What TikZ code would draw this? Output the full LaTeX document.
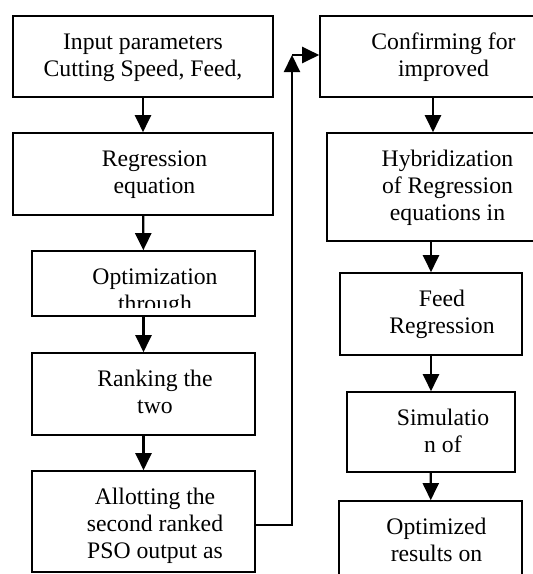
\documentclass[tikz,border=0pt]{standalone}
\usepackage{fontspec}
\setmainfont{Liberation Serif}
\usetikzlibrary{arrows.meta, positioning, calc}

\begin{document}
\begin{tikzpicture}[x=1pt, y=-1pt, align=center,
    box/.style={draw, line width=1.6pt, inner sep=0pt},
    txt/.style 2 args={path picture={
        \clip ([yshift=9pt]path picture bounding box.south west) rectangle (path picture bounding box.north east);
        \node[font=\fontsize{23.7}{27}\selectfont, align=center, inner sep=0pt, minimum width=0pt, minimum height=0pt, anchor=north] at ([xshift=#1pt, yshift=-14.1pt]path picture bounding box.north) {\strut #2};}},
    arrow/.style={-{Triangle[length=17pt, width=16pt]}, line width=2.2pt}
]
    \useasboundingbox (0,0) rectangle (533,574);
    \node[box, minimum width=260pt, minimum height=81pt, txt={0}{Input parameters\\Cutting Speed, Feed,}] (l1) at (143,56.5) {};
    \node[box, minimum width=260pt, minimum height=82pt, txt={11.5}{Regression\\equation}] (l2) at (143,174) {};
    \node[box, minimum width=223pt, minimum height=65pt, txt={11.5}{Optimization\\through}] (l3) at (143.5,283.5) {};
    \node[box, minimum width=223pt, minimum height=82pt, txt={11.5}{Ranking the\\two}] (l4) at (143.5,394) {};
    \node[box, minimum width=223pt, minimum height=101pt, txt={11.5}{Allotting the\\second ranked\\PSO output as}] (l5) at (143.5,521.5) {};
    \node[box, minimum width=226pt, minimum height=81pt, txt={10.5}{Confirming for\\improved}] (r1) at (433,56.5) {};
    \node[box, minimum width=219pt, minimum height=108pt, txt={11}{Hybridization\\of Regression\\equations in}] (r2) at (436.5,187) {};
    \node[box, minimum width=182pt, minimum height=82pt, txt={11}{Feed\\Regression}] (r3) at (431,314) {};
    \node[box, minimum width=168pt, minimum height=80pt, txt={12}{Simulatio\\n of}] (r4) at (431,432) {};
    \node[box, minimum width=183pt, minimum height=100pt, txt={6}{Optimized\\results on}] (r5) at (430.5,551) {};
    \draw[arrow] (l1) -- (l2);
    \draw[arrow] (l2) -- (l3);
    \draw[arrow] (l3) -- (l4);
    \draw[arrow] (l4) -- (l5);
    \coordinate (up) at (292,55);
    \draw[arrow] ([yshift=-3.5pt]l5.east) -| (up);
    \draw[arrow] (up) -- (up -| r1.west);
    \draw[arrow] (r1.south) -- (r1.south |- r2.north);
    \draw[arrow] (r3.north |- r2.south) -- (r3.north);
    \draw[arrow] (r3) -- (r4);
    \draw[arrow] (r4) -- (r5);
\end{tikzpicture}
\end{document}
